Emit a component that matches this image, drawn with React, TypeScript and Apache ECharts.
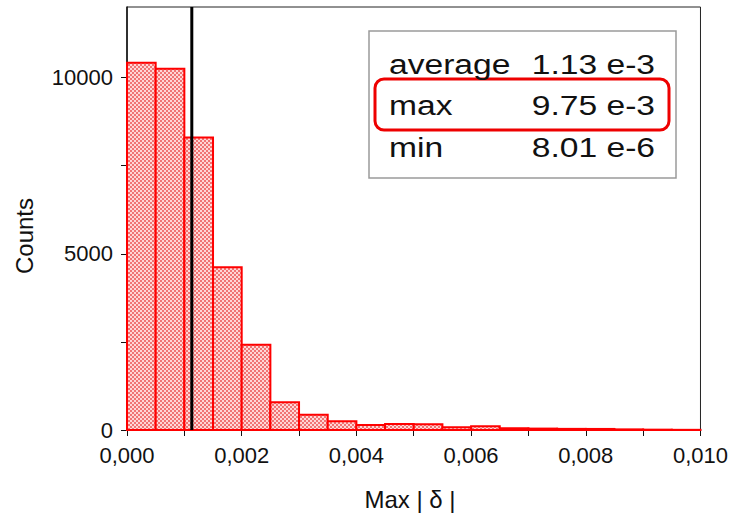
import React, { useEffect, useRef } from "react";
import * as echarts from "echarts";

const binStarts = [0, 0.0005, 0.001, 0.0015, 0.002, 0.0025, 0.003, 0.0035, 0.004, 0.0045, 0.005, 0.0055, 0.006, 0.0065, 0.007, 0.0075, 0.008, 0.0085, 0.009, 0.0095];
const binWidth = 0.0005;
const counts = [10420, 10250, 8300, 4620, 2415, 790, 430, 245, 145, 170, 160, 80, 105, 50, 40, 32, 30, 18, 10, 5];
const averageValue = 0.00113;
const statsLabels = ["average", "max", "min"];
const statsValues = ["1.13 e-3", "9.75 e-3", "8.01 e-6"];
const xTickValues = [0, 0.001, 0.002, 0.003, 0.004, 0.005, 0.006, 0.007, 0.008, 0.009, 0.01];
const xLabelValues = [0, 0.002, 0.004, 0.006, 0.008, 0.01];
const yTickValues = [0, 2500, 5000, 7500, 10000];
const yLabelValues = [0, 5000, 10000];

const FONT = "Liberation Sans";

function makePattern(): any {
  const c = document.createElement("canvas");
  c.width = 4;
  c.height = 4;
  const ctx = c.getContext("2d")!;
  ctx.fillStyle = "#ffd6d6";
  ctx.fillRect(0, 0, 4, 4);
  ctx.fillStyle = "#f07474";
  ctx.fillRect(0, 0, 2, 2);
  ctx.fillRect(2, 2, 2, 2);
  return { image: c, repeat: "repeat" };
}

export default function App() {
  const ref = useRef<HTMLDivElement>(null);
  useEffect(() => {
    const chart = echarts.init(ref.current!, null, { renderer: "svg" });
    const pattern = makePattern();
    const histData = binStarts.map((s, i) => [s, s + binWidth, counts[i]]);

    const graphics: any[] = [
      {
        type: "rect",
        shape: { x: 369, y: 31, width: 307, height: 147 },
        style: { fill: "#fff", stroke: "#9a9a9a", lineWidth: 1.5 },
        z: 100,
      },
      {
        type: "rect",
        shape: { x: 375, y: 79, width: 294, height: 51, r: 9 },
        style: { fill: "none", stroke: "#ee0000", lineWidth: 3 },
        z: 101,
      },
      {
        type: "text",
        x: 24,
        y: 236,
        rotation: Math.PI / 2,
        style: { text: "Counts", font: `24px '${FONT}'`, fill: "#111", align: "center", verticalAlign: "middle" },
      },
      {
        type: "text",
        x: 410,
        y: 499,
        style: { text: "Max | δ |", font: `24px '${FONT}'`, fill: "#111", align: "center", verticalAlign: "middle" },
      },
    ];
    const rowY = [64, 105, 147];
    statsLabels.forEach((lab, i) => {
      graphics.push({
        type: "text",
        x: 389,
        y: rowY[i],
        scaleX: 1.2,
        z: 102,
        style: { text: lab, font: `28px '${FONT}'`, fill: "#111", align: "left", verticalAlign: "middle" },
      });
      graphics.push({
        type: "text",
        x: 655,
        y: rowY[i],
        scaleX: 1.2,
        z: 102,
        style: { text: statsValues[i], font: `28px '${FONT}'`, fill: "#111", align: "right", verticalAlign: "middle" },
      });
    });

    chart.setOption({
      animation: false,
      grid: { left: 127, right: 30, top: 7, bottom: 85, show: true, borderColor: "#222", borderWidth: 1 },
      xAxis: {
        type: "value",
        min: 0,
        max: 0.01,
        interval: 0.001,
        axisLine: { show: true, lineStyle: { color: "#111", width: 1.5 } },
        axisTick: { show: true, inside: false, length: 6, lineStyle: { color: "#111" }, customValues: xTickValues },
        axisLabel: {
          margin: 14,
          color: "#111",
          fontFamily: FONT,
          fontSize: 22,
          customValues: xLabelValues,
          formatter: (v: number) => {
            const k = Math.round(v * 1000);
            return k % 2 === 0 ? v.toFixed(3).replace(".", ",") : "";
          },
        },
        splitLine: { show: false },
      },
      yAxis: {
        type: "value",
        min: 0,
        max: 12000,
        interval: 2500,
        axisLine: { show: true, lineStyle: { color: "#111", width: 1.5 } },
        axisTick: { show: true, inside: false, length: 6, lineStyle: { color: "#111" }, customValues: yTickValues },
        axisLabel: {
          margin: 14,
          color: "#111",
          fontFamily: FONT,
          fontSize: 22,
          customValues: yLabelValues,
          formatter: (v: number) => (v % 5000 === 0 ? String(v) : ""),
        },
        splitLine: { show: false },
      },
      graphic: graphics,
      series: [
        {
          type: "custom",
          data: histData,
          encode: { x: [0, 1], y: 2 },
          renderItem: (params: any, api: any) => {
            const x0 = api.value(0);
            const x1 = api.value(1);
            const y = api.value(2);
            const p0 = api.coord([x0, y]);
            const p1 = api.coord([x1, 0]);
            return {
              type: "rect",
              shape: { x: p0[0], y: p0[1], width: p1[0] - p0[0], height: p1[1] - p0[1] },
              style: { fill: pattern, stroke: "#ff0000", lineWidth: 2 },
            };
          },
          z: 2,
        },
        {
          type: "line",
          data: [
            [averageValue, 0],
            [averageValue, 12000],
          ],
          symbol: "none",
          lineStyle: { color: "#000", width: 3 },
          z: 3,
        },
      ],
    });
    return () => chart.dispose();
  }, []);
  return <div ref={ref} style={{ position: "absolute", left: 0, top: 0, width: 731, height: 515 }} />;
}
